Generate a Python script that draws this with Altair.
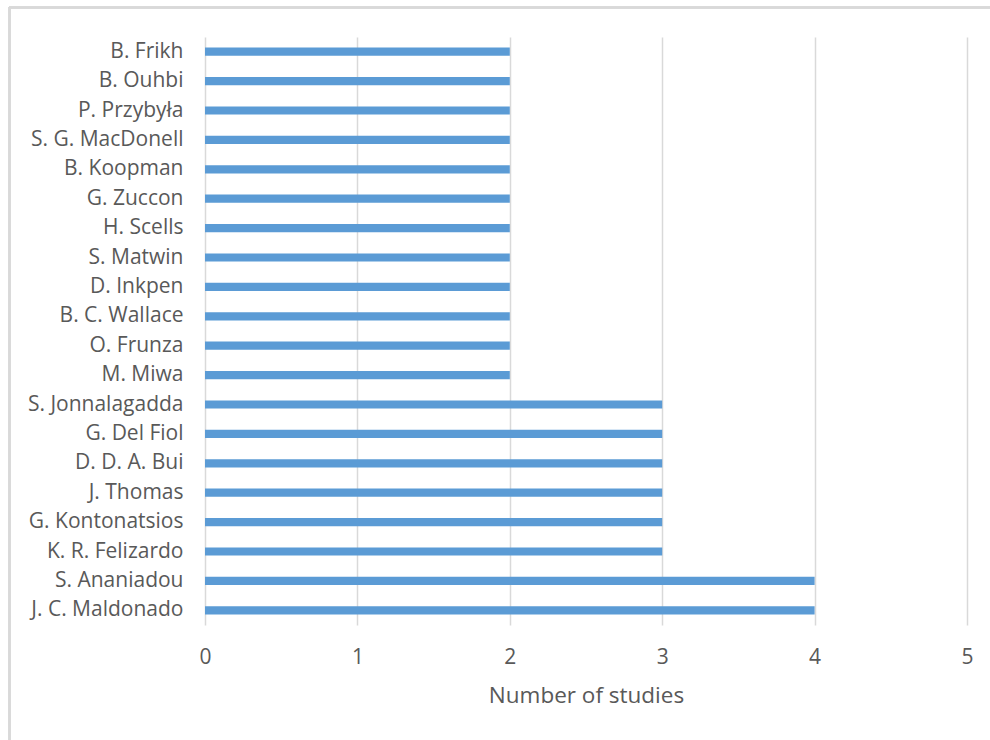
import altair as alt
import pandas as pd

# Authors listed top to bottom, with their number of studies
authors = [
    "B. Frikh", "B. Ouhbi", "P. Przybyła", "S. G. MacDonell", "B. Koopman",
    "G. Zuccon", "H. Scells", "S. Matwin", "D. Inkpen", "B. C. Wallace",
    "O. Frunza", "M. Miwa", "S. Jonnalagadda", "G. Del Fiol", "D. D. A. Bui",
    "J. Thomas", "G. Kontonatsios", "K. R. Felizardo", "S. Ananiadou",
    "J. C. Maldonado",
]
studies = [2, 2, 2, 2, 2, 2, 2, 2, 2, 2, 2, 2, 3, 3, 3, 3, 3, 3, 4, 4]
x_ticks = [0, 1, 2, 3, 4, 5]

df = pd.DataFrame({"author": authors, "studies": studies})

FONT = "Open Sans"
TEXT = "#595959"
GRID = "#d9d9d9"

bars = alt.Chart(df).mark_bar(color="#5B9BD5").encode(
    x=alt.X(
        "studies:Q",
        scale=alt.Scale(domain=[0, 5]),
        axis=alt.Axis(
            values=x_ticks,
            title="Number of studies",
            grid=True,
            gridColor=GRID,
            gridWidth=1.5,
            domain=False,
            ticks=False,
            labelFlush=False,
            labelPadding=21,
            labelFontSize=21,
            labelColor=TEXT,
            labelFont=FONT,
            titleFont=FONT,
            titleFontSize=22.5,
            titleFontWeight="normal",
            titleColor=TEXT,
            titlePadding=17,
        ),
    ),
    y=alt.Y(
        "author:N",
        sort=authors,
        scale=alt.Scale(paddingInner=0.72, paddingOuter=0.36),
        axis=alt.Axis(
            title=None,
            domain=False,
            ticks=False,
            grid=False,
            labelPadding=22,
            labelFontSize=21,
            labelColor=TEXT,
            labelFont=FONT,
        ),
    ),
)

# Light frame around the chart (top and left edges)
frame_top = alt.Chart(df).mark_rule(color=GRID, strokeWidth=2, clip=False).encode(
    x=alt.value(-196), x2=alt.value(785), y=alt.value(-29.5)
)
frame_left = alt.Chart(df).mark_rule(color=GRID, strokeWidth=2, clip=False).encode(
    x=alt.value(-195.5), y=alt.value(-30), y2=alt.value(703)
)

chart = (
    alt.layer(bars, frame_top, frame_left)
    .properties(
        width=762,
        height=588,
        padding={"left": 205, "top": 37, "right": 23, "bottom": 115},
        autosize=alt.AutoSizeParams(type="none"),
        background="white",
    )
    .configure_view(stroke=None)
)

chart.save("out.html", embed_options={"renderer": "svg", "actions": False})
